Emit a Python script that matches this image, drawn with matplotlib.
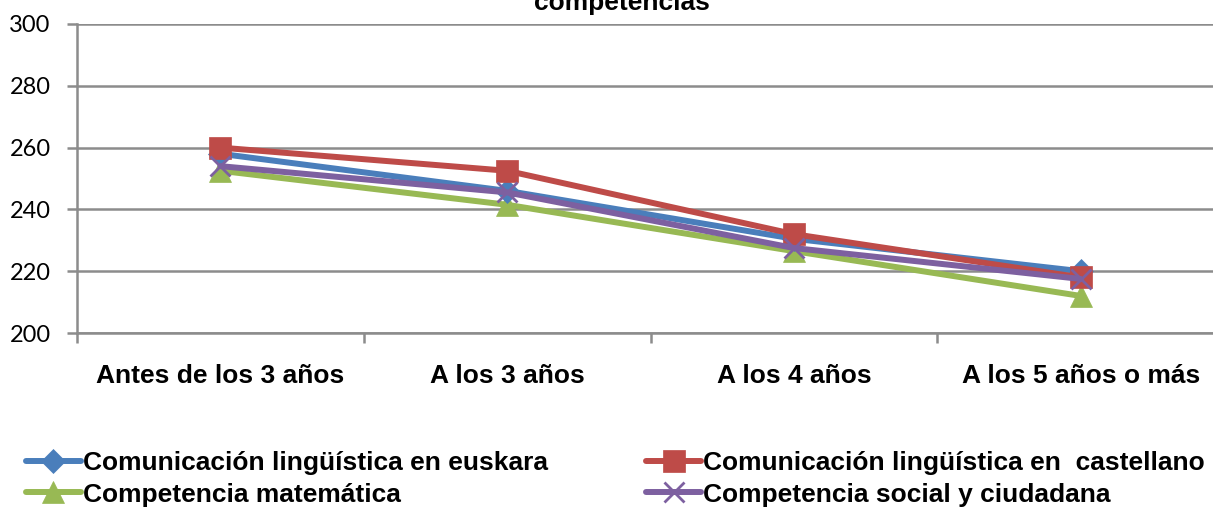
import matplotlib
matplotlib.use('Agg')
import matplotlib.pyplot as plt
import numpy as np
from matplotlib.ticker import FixedLocator

# Age at schooling start vs. mean score per competence
categories = ['Antes de los 3 años', 'A los 3 años', 'A los 4 años', 'A los 5 años o más']
euskara = [258, 246, 230.5, 220]
castellano = [260, 252.5, 232, 218]
matematica = [252.5, 241.5, 226.5, 212]
social = [254, 245.5, 227.5, 217.5]

labels = {
    'euskara': 'Comunicación lingüística en euskara',
    'castellano': 'Comunicación lingüística en  castellano',
    'matematica': 'Competencia matemática',
    'social': 'Competencia social y ciudadana',
}

grid_color = '#8c8c8c'
W, H = 1213, 507
fs = 19

fig = plt.figure(figsize=(W / 100, H / 100), dpi=100)
ax = fig.add_axes([77 / W, 1 - 333 / H, (1224 - 77) / W, (333 - 24) / H])

x = np.arange(len(categories)) + 0.5
series = [
    ('euskara', euskara, '#4a7ebb', 'D', 12, 2),
    ('castellano', castellano, '#be4b48', 's', 16, 3),
    ('matematica', matematica, '#98b954', '^', 16, 1),
    ('social', social, '#7d60a0', 'x', 14, 4),
]
handles = {}
for key, vals, col, mk, ms, z in series:
    kw = dict(markeredgewidth=2) if mk == 'x' else dict(markeredgewidth=0.5)
    line, = ax.plot(x, vals, color=col, lw=4.3, marker=mk, markersize=ms,
                    markerfacecolor=col, markeredgecolor=col, zorder=z,
                    solid_capstyle='round', clip_on=False, **kw)
    handles[key] = line

ax.set_xlim(0, 4)
ax.set_ylim(200, 300)
ax.set_yticks(np.arange(200, 301, 20))
ax.yaxis.grid(True, color=grid_color, lw=1.8)
ax.set_axisbelow(True)

for s in ['top', 'right']:
    ax.spines[s].set_visible(False)
for s in ['left', 'bottom']:
    ax.spines[s].set_color(grid_color)
    ax.spines[s].set_linewidth(1.8)

ax.set_xticks(x)
ax.set_xticklabels(categories, fontfamily='Liberation Sans', fontweight='bold', fontsize=fs)
ax.tick_params(axis='x', which='major', length=0, pad=22)
ax.xaxis.set_minor_locator(FixedLocator(np.arange(0, 5)))
ax.tick_params(axis='x', which='minor', length=7, width=1.8, color=grid_color)
ax.tick_params(axis='y', length=7, width=1.8, color=grid_color, pad=12)
for t in ax.get_yticklabels():
    t.set_fontfamily('Lato')
    t.set_fontsize(17)

fig.text(622 / W, 1 - 10 / H, 'competencias', ha='center', va='baseline',
         fontfamily='Liberation Sans', fontweight='bold', fontsize=fs)

order = ['euskara', 'matematica', 'castellano', 'social']
fig.legend([handles[k] for k in order], [labels[k] for k in order],
           ncol=2, loc='upper left', bbox_to_anchor=(2 / W, 1 - 427 / H),
           frameon=False, prop=dict(family='Liberation Sans', weight='bold', size=fs),
           handlelength=2.1, handletextpad=0.08, columnspacing=3.7, labelspacing=0.3)

fig.savefig('out.png', dpi=100)
